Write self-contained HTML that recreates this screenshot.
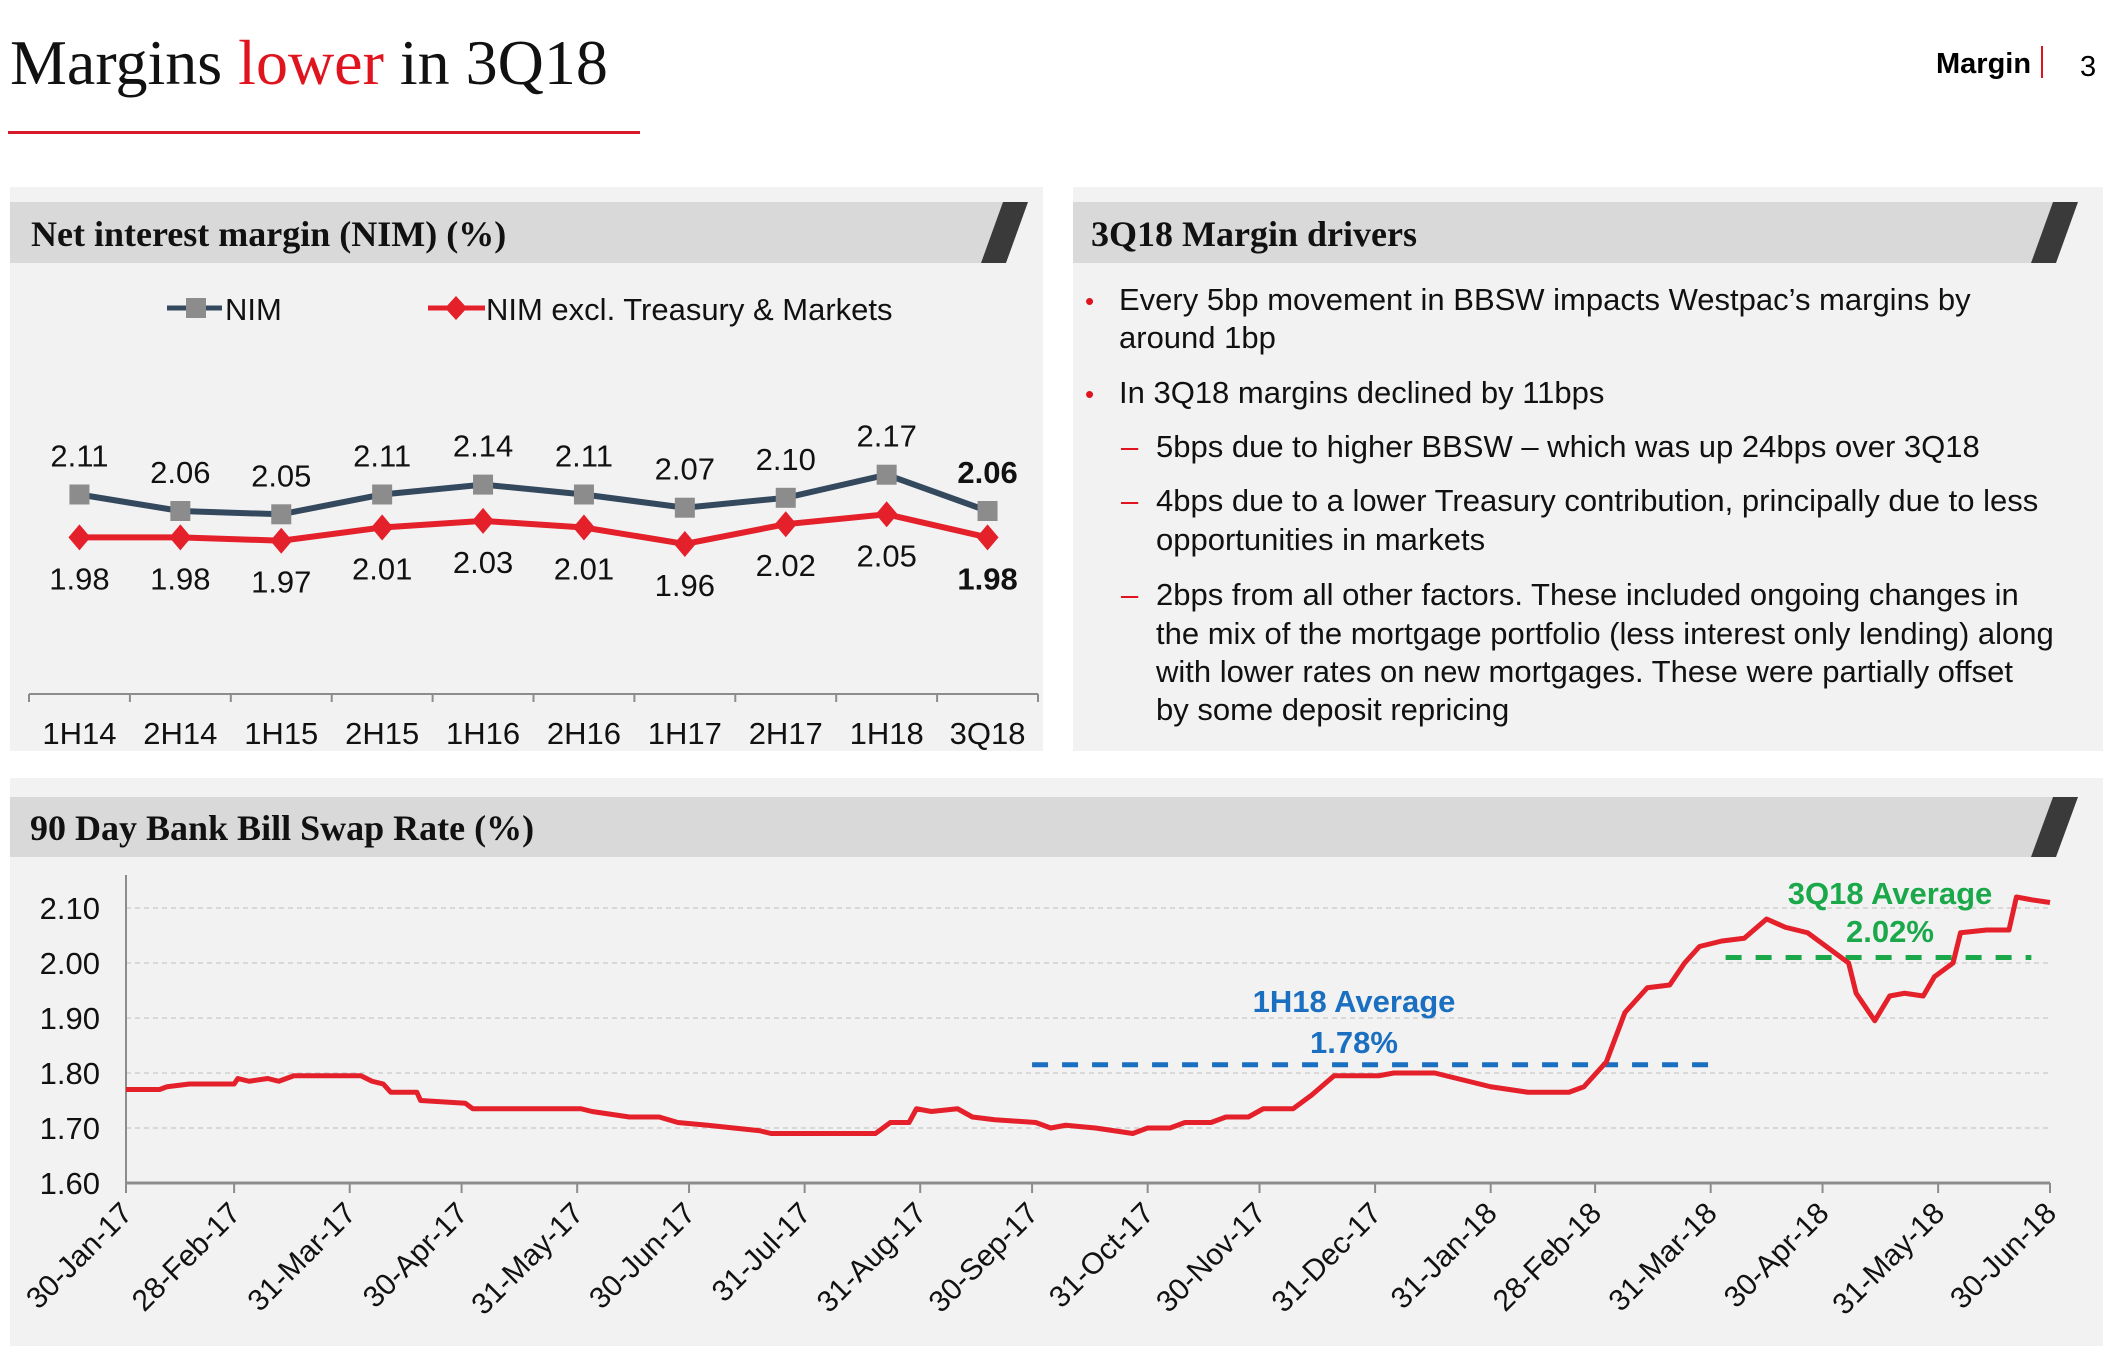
<!DOCTYPE html>
<html><head><meta charset="utf-8"><style>
html,body{margin:0;padding:0;background:#fff;}
svg{display:block;font-family:"Liberation Sans",Arial,sans-serif;}
.serif{font-family:"Liberation Serif","Times New Roman",serif;}
</style></head><body>
<svg id="page" width="2111" height="1354" viewBox="0 0 2111 1354" xmlns="http://www.w3.org/2000/svg">
  <rect width="2111" height="1354" fill="#fff"/>
  <text class="serif" x="10" y="84" font-size="64" fill="#111">Margins <tspan fill="#e0141e">lower</tspan> in 3Q18</text>
  <rect x="8" y="131" width="632" height="3" fill="#d7192b"/>
  <text x="1936" y="73" font-size="29" font-weight="bold" fill="#000">Margin</text>
  <rect x="2041" y="46" width="2" height="32" fill="#e0141e"/>
  <text x="2080" y="76" font-size="29" fill="#000">3</text>

  <rect x="10" y="187" width="1033" height="564" fill="#f2f2f2"/>
  <rect x="1073" y="187" width="1030" height="564" fill="#f2f2f2"/>
  <rect x="10" y="778" width="2093" height="568" fill="#f2f2f2"/>

  <g id="headers"></g>
  <text class="serif" x="31" y="246" font-size="36" font-weight="bold" fill="#111">Net interest margin (NIM) (%)</text>
  <text class="serif" x="1091" y="246" font-size="36" font-weight="bold" fill="#111">3Q18 Margin drivers</text>
  <text class="serif" x="30" y="840" font-size="36" font-weight="bold" fill="#111">90 Day Bank Bill Swap Rate (%)</text>

  <g font-size="31" fill="#111">
    <text x="1085" y="310" fill="#e0141e" font-size="26">•</text>
    <text x="1119" y="310">Every 5bp movement in BBSW impacts Westpac’s margins by</text>
    <text x="1119" y="348">around 1bp</text>
    <text x="1085" y="403" fill="#e0141e" font-size="26">•</text>
    <text x="1119" y="403">In 3Q18 margins declined by 11bps</text>
    <text x="1121" y="457" fill="#e0141e">–</text>
    <text x="1156" y="457">5bps due to higher BBSW – which was up 24bps over 3Q18</text>
    <text x="1121" y="511" fill="#e0141e">–</text>
    <text x="1156" y="511">4bps due to a lower Treasury contribution, principally due to less</text>
    <text x="1156" y="550">opportunities in markets</text>
    <text x="1121" y="605" fill="#e0141e">–</text>
    <text x="1156" y="605">2bps from all other factors.  These included ongoing changes in</text>
    <text x="1156" y="644">the mix of the mortgage portfolio (less interest only lending) along</text>
    <text x="1156" y="682">with lower rates on new mortgages.  These were partially offset</text>
    <text x="1156" y="720">by some deposit repricing</text>
  </g>

  <g id="nim-chart"></g>
  <g id="bbsw-chart"></g>
</svg>
<script>
const NS='http://www.w3.org/2000/svg';
function mk(parent,tag,attrs,txt){const e=document.createElementNS(NS,tag);for(const k in attrs)e.setAttribute(k,attrs[k]);if(txt!==undefined)e.textContent=txt;parent.appendChild(e);return e;}

const nimCategories=['1H14','2H14','1H15','2H15','1H16','2H16','1H17','2H17','1H18','3Q18'];
const nimValues=[2.11,2.06,2.05,2.11,2.14,2.11,2.07,2.10,2.17,2.06];
const nimExclValues=[1.98,1.98,1.97,2.01,2.03,2.01,1.96,2.02,2.05,1.98];

const bbswDays=[0,9,11,17,29,30,33,38,41,45,63,66,69,71,78,79,91,93,122,125,135,143,148,156,163,170,173,201,205,210,212,216,223,227,233,244,248,252,260,270,274,280,284,291,295,301,305,313,318,324,336,340,351,357,366,376,387,391,397,402,408,414,418,422,428,434,440,445,451,457,462,464,469,473,477,482,485,490,492,499,505,507,511,516];
const bbswRates=[1.77,1.77,1.775,1.78,1.78,1.79,1.785,1.79,1.785,1.795,1.795,1.785,1.78,1.765,1.765,1.75,1.745,1.735,1.735,1.73,1.72,1.72,1.71,1.705,1.70,1.695,1.69,1.69,1.71,1.71,1.735,1.73,1.735,1.72,1.715,1.71,1.70,1.705,1.70,1.69,1.70,1.70,1.71,1.71,1.72,1.72,1.735,1.735,1.76,1.795,1.795,1.80,1.80,1.79,1.775,1.765,1.765,1.775,1.82,1.91,1.955,1.96,2.00,2.03,2.04,2.045,2.08,2.065,2.055,2.025,2.00,1.945,1.895,1.94,1.945,1.94,1.975,2.00,2.055,2.06,2.06,2.12,2.115,2.11];
const bbswTickLabels=['30-Jan-17','28-Feb-17','31-Mar-17','30-Apr-17','31-May-17','30-Jun-17','31-Jul-17','31-Aug-17','30-Sep-17','31-Oct-17','30-Nov-17','31-Dec-17','31-Jan-18','28-Feb-18','31-Mar-18','30-Apr-18','31-May-18','30-Jun-18'];
const bbswTickDays=[0,29,60,90,121,151,182,213,243,274,304,335,366,394,425,455,486,516];
const yTicks=[1.60,1.70,1.80,1.90,2.00,2.10];
const avgLabels=['1H18 Average','1.78%','3Q18 Average','2.02%'];
const avg1H18Pos=1.815, avg3Q18Pos=2.01;
const avg1H18Days=[243,425], avg3Q18Days=[429,511];

const H=document.getElementById('headers');
[[10,1043,202,263,'nim-header-band'],[1073,2093,202,263,'drivers-header-band'],[10,2093,797,857,'bbsw-header-band']].forEach(h=>{
  const [x0,xr,t,b,n]=h; const r=xr-15;
  const band=mk(H,'polygon',{points:`${x0},${t} ${r-25},${t} ${r-47},${b} ${x0},${b}`,fill:'#d9d9d9'});
  
  
  const sl=mk(H,'polygon',{points:`${r-25},${t} ${r},${t} ${r-22},${b} ${r-47},${b}`,fill:'#3a3a3a'});
  
  
});

(function(){
  const g=document.getElementById('nim-chart');
  const x0=29,x1=1038,n=nimCategories.length,step=(x1-x0)/n;
  const xc=i=>x0+step*(i+0.5);
  const yv=v=>511-(v-2.06)*330;
  const l1=mk(g,'g',{});
  mk(l1,'line',{x1:167,y1:308,x2:222,y2:308,stroke:'#34495e','stroke-width':5});
  mk(l1,'rect',{x:186,y:298,width:20,height:20,fill:'#8c8c8c'});
  mk(l1,'text',{x:225,y:320,'font-size':31,fill:'#111'},'NIM');
  const l2=mk(g,'g',{});
  mk(l2,'line',{x1:428,y1:308,x2:485,y2:308,stroke:'#e4202a','stroke-width':5});
  mk(l2,'polygon',{points:'456,296 467,308 456,320 445,308',fill:'#e4202a'});
  mk(l2,'text',{x:486,y:320,'font-size':31,fill:'#111'},'NIM excl. Treasury & Markets');
  const ax=mk(g,'line',{x1:x0,y1:694,x2:x1,y2:694,stroke:'#8c8c8c','stroke-width':2});
  
  for(let i=0;i<=n;i++){mk(g,'line',{x1:x0+step*i,y1:694,x2:x0+step*i,y2:702,stroke:'#8c8c8c','stroke-width':2});}
  nimCategories.forEach((c,i)=>{const t=mk(g,'text',{x:xc(i),y:744,'font-size':31,'text-anchor':'middle',fill:'#111'},c);
    });
  const p1=mk(g,'polyline',{points:nimValues.map((v,i)=>xc(i)+','+yv(v)).join(' '),fill:'none',stroke:'#34495e','stroke-width':6});
  
  const p2=mk(g,'polyline',{points:nimExclValues.map((v,i)=>xc(i)+','+yv(v)).join(' '),fill:'none',stroke:'#e4202a','stroke-width':6});
  
  nimValues.forEach((v,i)=>{
    const m=mk(g,'rect',{x:xc(i)-10,y:yv(v)-10,width:20,height:20,fill:'#8c8c8c'});
    
    const t=mk(g,'text',{x:xc(i),y:yv(v)-28,'font-size':31,'text-anchor':'middle',fill:'#111','font-weight':i===n-1?'bold':'normal'},v.toFixed(2));
    
  });
  nimExclValues.forEach((v,i)=>{
    const cx=xc(i),cy=yv(v);
    const m=mk(g,'polygon',{points:`${cx},${cy-13} ${cx+11},${cy} ${cx},${cy+13} ${cx-11},${cy}`,fill:'#e4202a'});
    
    const t=mk(g,'text',{x:cx,y:cy+52,'font-size':31,'text-anchor':'middle',fill:'#111','font-weight':i===n-1?'bold':'normal'},v.toFixed(2));
    
  });
})();

(function(){
  const g=document.getElementById('bbsw-chart');
  const X0=126,X1=2050,D=516,Y0=1183,perUnit=550;
  const xd=d=>X0+(X1-X0)*d/D;
  const yv=v=>Y0-(v-1.60)*perUnit;
  yTicks.forEach((v,i)=>{
    if(i>0){const gl=mk(g,'line',{x1:X0,y1:yv(v),x2:X1,y2:yv(v),stroke:'#cfcfcf','stroke-width':1.5,'stroke-dasharray':'5,4'});
      }
    const t=mk(g,'text',{x:100,y:yv(v)+11,'font-size':31,'text-anchor':'end',fill:'#111'},v.toFixed(2));
    
  });
  const ya=mk(g,'line',{x1:X0,y1:yv(2.16),x2:X0,y2:Y0,stroke:'#8c8c8c','stroke-width':2});
  
  const xa=mk(g,'line',{x1:X0,y1:Y0,x2:X1,y2:Y0,stroke:'#8c8c8c','stroke-width':3});
  
  bbswTickDays.forEach((d,i)=>{
    mk(g,'line',{x1:xd(d),y1:Y0,x2:xd(d),y2:Y0+10,stroke:'#8c8c8c','stroke-width':2});
    const x=xd(d)+8,y=1215;
    const t=mk(g,'text',{x:x,y:y,'font-size':30,'text-anchor':'end',fill:'#111',transform:`rotate(-45 ${x} ${y})`},bbswTickLabels[i]);
    
  });
  const a1=mk(g,'line',{x1:xd(avg1H18Days[0]),y1:yv(avg1H18Pos),x2:xd(avg1H18Days[1]),y2:yv(avg1H18Pos),stroke:'#1a6fc0','stroke-width':5,'stroke-dasharray':'16,14'});
  
  const a2=mk(g,'line',{x1:xd(avg3Q18Days[0]),y1:yv(avg3Q18Pos),x2:xd(avg3Q18Days[1]),y2:yv(avg3Q18Pos),stroke:'#1aa84a','stroke-width':5,'stroke-dasharray':'16,14'});
  
  const ln=mk(g,'polyline',{points:bbswDays.map((d,i)=>xd(d)+','+yv(bbswRates[i])).join(' '),fill:'none',stroke:'#e4202a','stroke-width':5,'stroke-linejoin':'round'});
  
  const t1=mk(g,'text',{x:1354,y:1012,'font-size':31,'font-weight':'bold','text-anchor':'middle',fill:'#1a6fc0'},avgLabels[0]);
  
  const t2=mk(g,'text',{x:1354,y:1053,'font-size':31,'font-weight':'bold','text-anchor':'middle',fill:'#1a6fc0'},avgLabels[1]);
  
  const t3=mk(g,'text',{x:1890,y:904,'font-size':31,'font-weight':'bold','text-anchor':'middle',fill:'#1aa84a'},avgLabels[2]);
  
  const t4=mk(g,'text',{x:1890,y:942,'font-size':31,'font-weight':'bold','text-anchor':'middle',fill:'#1aa84a'},avgLabels[3]);
  
})();
</script>
</body></html>
